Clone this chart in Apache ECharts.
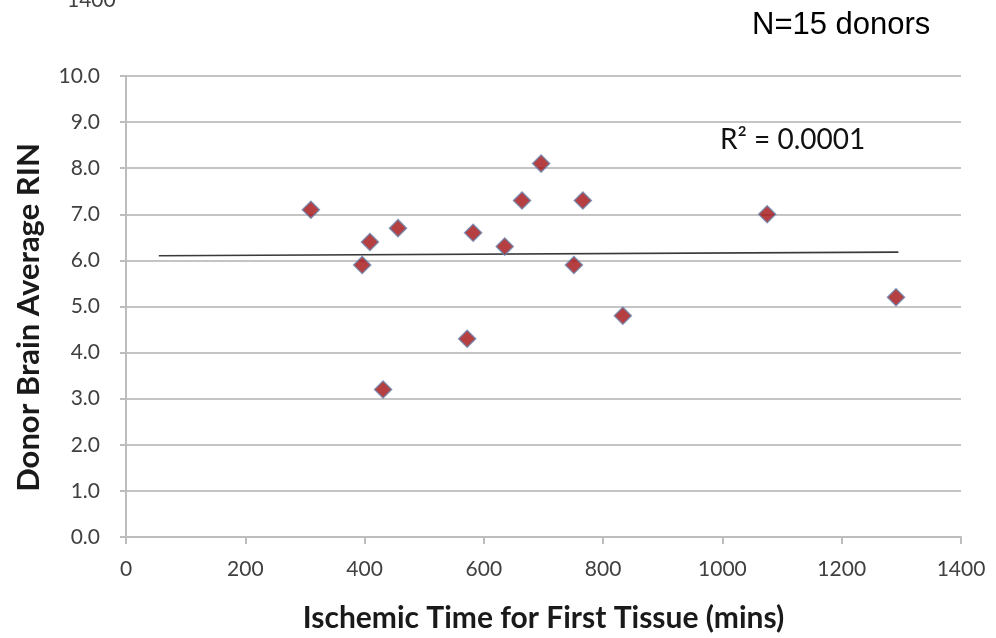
<!DOCTYPE html>
<html>
<head>
<meta charset="utf-8">
<script src="https://cdn.jsdelivr.net/npm/echarts@6/dist/echarts.min.js"></script>
<style>
html,body{margin:0;padding:0;background:#fff;}
#c{width:996px;height:638px;}
</style>
</head>
<body>
<div id="c"></div>
<script>
// Data
var ischemicTime = [310, 396, 409, 431, 456, 572, 582, 635, 664, 696, 751, 766, 833, 1075, 1291];
var averageRIN   = [7.1, 5.9, 6.4, 3.2, 6.7, 4.3, 6.6, 6.3, 7.3, 8.1, 5.9, 7.3, 4.8, 7.0, 5.2];
var trendX = [55, 1295];
var trendY = [6.10, 6.18];
var xTicks = [0, 200, 400, 600, 800, 1000, 1200, 1400];
var yTicks = [0, 1, 2, 3, 4, 5, 6, 7, 8, 9, 10];

var points = ischemicTime.map(function (x, i) { return [x, averageRIN[i]]; });
var trend = trendX.map(function (x, i) { return [x, trendY[i]]; });

var chart = echarts.init(document.getElementById('c'), null, {renderer: 'canvas'});
var lbl = {fontFamily: 'Lato', fontSize: 21, color: '#404040'};
chart.setOption({
  animation: false,
  backgroundColor: '#ffffff',
  grid: {left: 126, right: 35, top: 76, bottom: 99, containLabel: false},
  xAxis: {
    type: 'value', min: 0, max: 1400, interval: 200,
    name: 'Ischemic Time for First Tissue (mins)',
    nameLocation: 'middle', nameGap: 66,
    nameTextStyle: {fontFamily: 'Lato', fontWeight: 'bold', fontSize: 30, color: '#1a1a1a'},
    axisLine: {show: true, lineStyle: {color: '#bdbdbd', width: 2}},
    axisTick: {show: true, length: 7, lineStyle: {color: '#bdbdbd', width: 2}},
    axisLabel: Object.assign({margin: 22, formatter: function (v) { return xTicks.indexOf(v) >= 0 ? String(v) : ''; }}, lbl),
    splitLine: {show: false}
  },
  yAxis: {
    type: 'value', min: 0, max: 10, interval: 1,
    name: 'Donor Brain Average RIN',
    nameLocation: 'middle', nameGap: 82, nameRotate: 90,
    nameTextStyle: {fontFamily: 'Lato', fontWeight: 'bold', fontSize: 31, color: '#1a1a1a', padding: [0, 22, 0, 0]},
    axisLine: {show: true, lineStyle: {color: '#bdbdbd', width: 2}},
    axisTick: {show: true, length: 6, lineStyle: {color: '#bdbdbd', width: 2}},
    axisLabel: Object.assign({margin: 26, formatter: function (v) { return yTicks.indexOf(v) >= 0 ? v.toFixed(1) : ''; }}, lbl),
    splitLine: {show: true, lineStyle: {color: '#c4c4c4', width: 2}}
  },
  series: [
    {
      type: 'line', data: trend, symbol: 'none', silent: true,
      lineStyle: {color: '#3a3a3a', width: 1.6}, z: 2
    },
    {
      type: 'scatter', data: points, symbol: 'diamond', symbolSize: [17, 17],
      itemStyle: {color: '#a30f12', borderColor: '#6a7fa8', borderWidth: 1.5}, z: 3
    }
  ],
  graphic: [
    {type: 'text', left: 752, top: 10, style: {text: 'N=15 donors', fontFamily: 'Liberation Sans', fontSize: 31, fill: '#000'}},
    {type: 'text', left: 720, top: 126, style: {text: 'R² = 0.0001', fontFamily: 'Lato', fontSize: 28, fill: '#111'}},
    {type: 'text', left: 67, top: -10, style: {text: '1400', fontFamily: 'Lato', fontSize: 21, fill: '#404040'}}
  ]
});
</script>
</body>
</html>
